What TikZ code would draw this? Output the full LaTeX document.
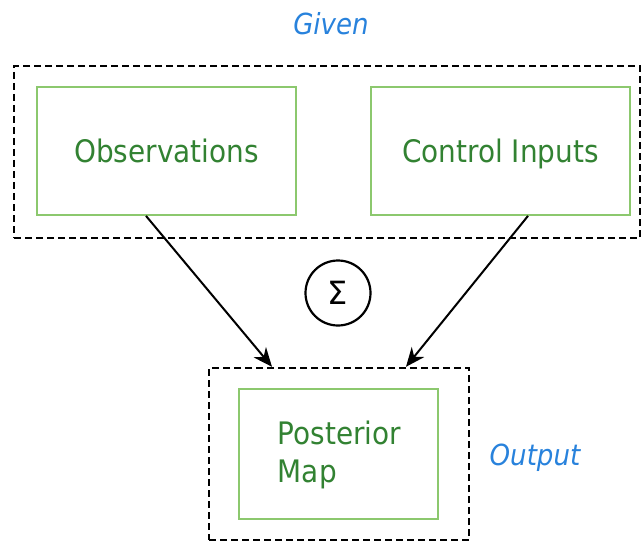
\documentclass[tikz,border=0pt]{standalone}
\usepackage{fontspec}
\setmainfont{DejaVu Sans Condensed}
\newfontfamily\sigmafont{DejaVu Sans}
\usetikzlibrary{arrows.meta}
\definecolor{txtgreen}{RGB}{50,130,50}
\definecolor{boxgreen}{RGB}{140,200,110}
\definecolor{lblblue}{RGB}{40,130,220}
\tikzset{
  px/.style={x=1pt,y=-1pt},
  greenbox/.style={draw=boxgreen,line width=1.8pt,text=txtgreen,font=\fontsize{31}{38}\selectfont,inner sep=0pt},
  onerow/.style={text height=24pt,text depth=0pt},
  group/.style={draw=black,line width=2.4pt,dash pattern=on 7pt off 4pt},
  lbl/.style={text=lblblue,font=\fontsize{29}{32}\selectfont\itshape},
  conn/.style={draw=black,line width=2pt,-{Stealth[length=19pt,width=16pt,inset=6pt]}}
}
\begin{document}
\begin{tikzpicture}[px]
\useasboundingbox (0,0) rectangle (644,540);
\node[lbl] (given) at (331,24) {Given};
\node[group,minimum width=626pt,minimum height=172pt] (givenbox) at (327,152) {};
\node[greenbox,onerow,minimum width=259pt,minimum height=128pt] (obs) at (166.5,151) {Observations};
\node[greenbox,onerow,minimum width=259pt,minimum height=128pt] (ctrl) at (500.5,151) {Control Inputs};
\node[draw=black,line width=2.2pt,circle,minimum size=65pt,inner sep=0pt,font=\sigmafont\fontsize{32}{34}\selectfont] (sum) at (338,293) {Σ};
\node[group,minimum width=260pt,minimum height=172pt] (outbox) at (339,454) {};
\node[greenbox,minimum width=199pt,minimum height=130pt,align=left] (post) at (338.5,454) {};
\node[greenbox,draw=none,align=left,anchor=north west] (postlbl) at (277,420) {Posterior\\Map};
\node[lbl] (out) at (535,458) {Output};
\draw[conn] (obs.south -| 146,0) -- (outbox.north -| 272,0);
\draw[conn] (ctrl.south -| 528,0) -- (outbox.north -| 406,0);
\end{tikzpicture}
\end{document}
